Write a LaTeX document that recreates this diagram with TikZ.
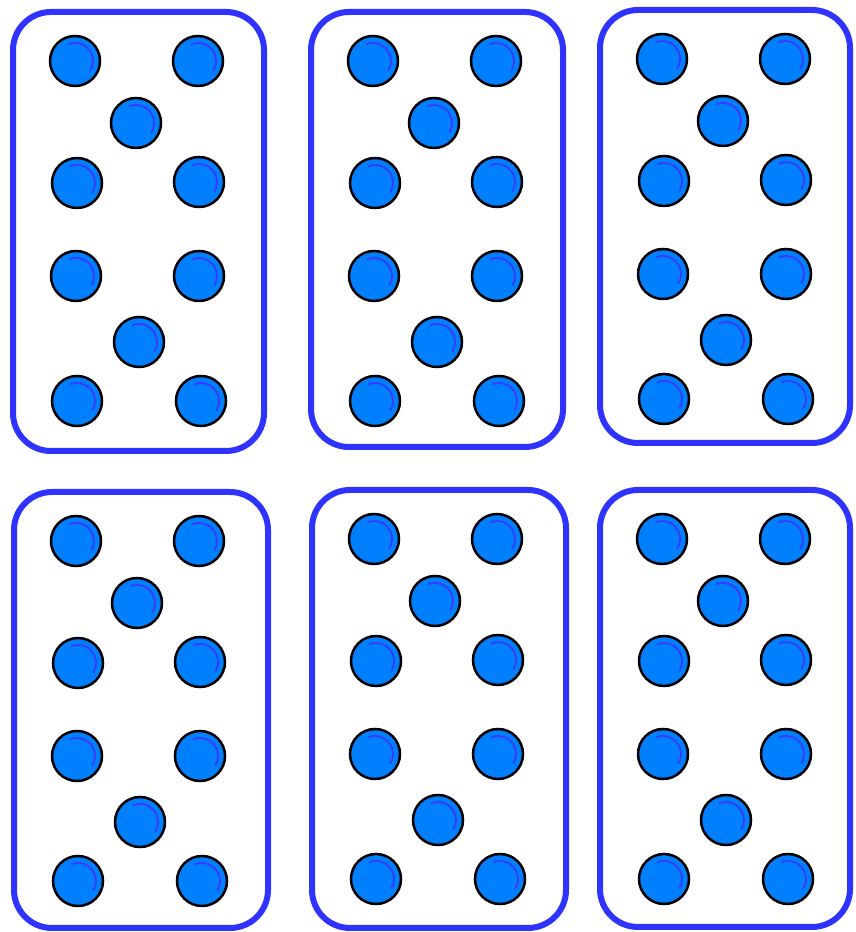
\documentclass[tikz,border=0pt]{standalone}
\usepackage{tikz}
\definecolor{cardBlue}{HTML}{2E33FF}
\definecolor{dotFill}{HTML}{0080FF}
\definecolor{dotShine}{HTML}{3A3AFF}

\tikzset{
  card/.style={draw=cardBlue, line width=6pt, rounded corners=38pt},
  dot/.style={circle, draw=black, fill=dotFill, line width=2.5pt,
    minimum size=50pt, inner sep=0pt},
  shine/.style={draw=dotShine, line width=1.8pt}
}

\begin{document}
\begin{tikzpicture}[x=1pt, y=1pt]
  \useasboundingbox (0,0) rectangle (856,932);
  % six cards: number / left / top / right / bottom (measured from the top)
  \foreach \n/\l/\t/\r/\b in {1/13/12/264/451, 2/311/12/563/447, 3/600/10/850/443,
                              4/14/492/268/928, 5/312/490/566/928, 6/600/490/850/927}{
    \draw[card] (\l,932-\t) rectangle (\r,932-\b);
    % ten dots, same pattern on every card
    \foreach \d/\dx/\dy in {1/62/49, 2/185/49, 3/123/111, 4/64/171, 5/186/170,
                            6/63/264, 7/186/264, 8/126/330, 9/64/389, 10/188/389}{
      \node[dot] (c\n-\d) at (\l+\dx, 932-\t-\dy) {};
      \draw[shine] ([shift={(112:18pt)}]c\n-\d.center)
        arc[start angle=112, end angle=-32, radius=18pt];
    }
  }
\end{tikzpicture}
\end{document}
